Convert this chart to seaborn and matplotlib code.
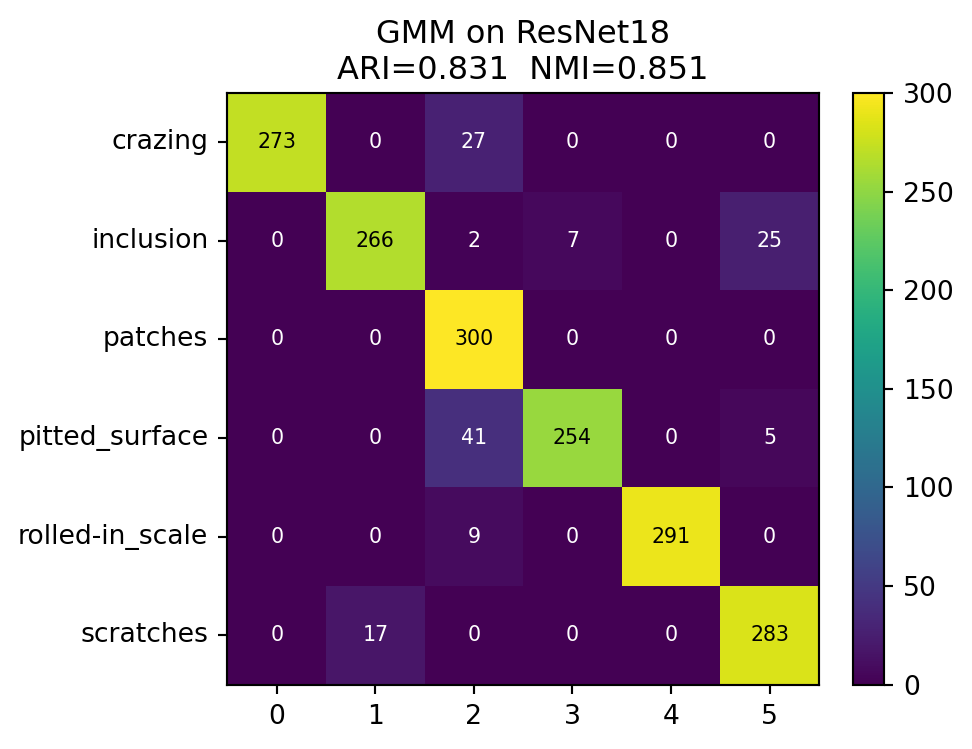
import numpy as np
import pandas as pd
import matplotlib
matplotlib.use("Agg")
import matplotlib.pyplot as plt
import seaborn as sns

rows = ["crazing", "inclusion", "patches", "pitted_surface", "rolled-in_scale", "scratches"]
cols = ["0", "1", "2", "3", "4", "5"]
crazing = [273, 0, 27, 0, 0, 0]
inclusion = [0, 266, 2, 7, 0, 25]
patches = [0, 0, 300, 0, 0, 0]
pitted_surface = [0, 0, 41, 254, 0, 5]
rolled_in_scale = [0, 0, 9, 0, 291, 0]
scratches = [0, 17, 0, 0, 0, 283]

df = pd.DataFrame([crazing, inclusion, patches, pitted_surface, rolled_in_scale, scratches],
                  index=rows, columns=cols)

fig = plt.figure(figsize=(4.86, 3.745), dpi=200)
ax = fig.add_axes([0.234, 0.0861, 0.6085, 0.7897])
cax = fig.add_axes([0.8776, 0.0861, 0.0319, 0.7897])

sns.heatmap(df, ax=ax, cbar_ax=cax, cmap="viridis", vmin=0, vmax=300,
            annot=True, fmt="d", annot_kws={"fontsize": 7.4})

for t in ax.texts:
    v = int(t.get_text())
    t.set_color("black" if v > 150 else "white")

for s in ax.spines.values():
    s.set_visible(True)
    s.set_linewidth(0.77)
cb = ax.collections[0].colorbar
cb.outline.set_visible(True)
cb.outline.set_linewidth(0.77)
cb.set_ticks([0, 50, 100, 150, 200, 250, 300])
cax.tick_params(labelsize=9.6, width=0.77, length=3.4)

ax.tick_params(axis="both", labelsize=9.6, width=0.77, length=3.4)
ax.set_yticklabels(rows, rotation=0)
ax.set_xticklabels(cols, rotation=0)
ax.set_xlabel("")
ax.set_ylabel("")
ax.set_title("GMM on ResNet18\nARI=0.831  NMI=0.851", fontsize=11.5, pad=5)

fig.savefig("out.png", dpi=200)
